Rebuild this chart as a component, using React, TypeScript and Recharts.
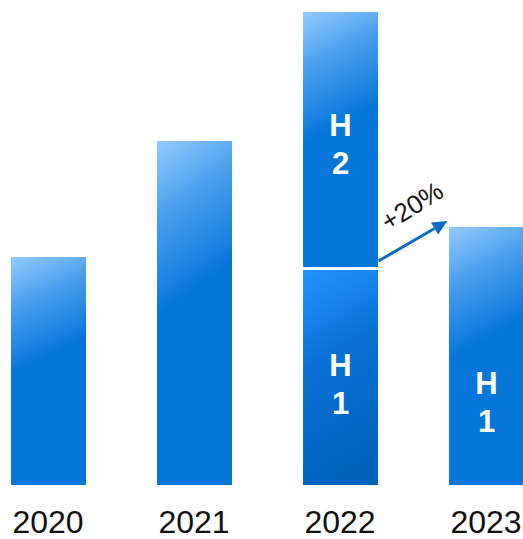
import React from "react";
import { BarChart, Bar, XAxis, YAxis, Cell, LabelList, ReferenceLine } from "recharts";

// ── Data ──────────────────────────────────────────────────────────────────────
const YEARS = ["2020", "2021", "2022", "2023"];
const FULL_YEAR = [106, 160, null, null];   // whole-year bars
const H1 = [null, null, 100, 120];           // first half
const H2 = [null, null, 120, null];          // second half
const H1_LABEL = ["", "", "1", "1"];
const H2_LABEL = ["", "", "2", ""];
const GROWTH = "+20%";

const data = YEARS.map((year, i) => ({
  year,
  full: FULL_YEAR[i],
  h1: H1[i],
  h2: H2[i],
}));

// ── Style ─────────────────────────────────────────────────────────────────────
const FONT = "'Liberation Sans', Arial, sans-serif";
const BAR_SIZE = 75;
const ARROW = "#0b6cc2";
const CHART_W = 584;
const CHART_H = 539;

// label vertical position inside each segment (fraction of its height)
const LABEL_POS = {
  h1: [0, 0, 0.53, 0.68],
  h2: [0, 0, 0.51, 0],
};
const LABELS = { h1: H1_LABEL, h2: H2_LABEL };

// LabelList index only counts non-null bars, so look the year up instead
function segLabel(key: "h1" | "h2") {
  return (props: any) => {
    const i = YEARS.indexOf(String(props.value));
    const digit = LABELS[key][i];
    if (!digit) return null;
    const top = Math.min(props.y, props.y + props.height);
    const h = Math.abs(props.height);
    const cx = props.x + props.width / 2;
    const cy = top + h * LABEL_POS[key][i];
    return (
      <g key={`${key}-${i}`} fontFamily={FONT} fontWeight="bold" fontSize={31} fill="#fff" textAnchor="middle">
        <text x={cx} y={cy - 19 + 11}>H</text>
        <text x={cx} y={cy + 19 + 11}>{digit}</text>
      </g>
    );
  };
}

// H2 segment with the white divider at its base
function H2Shape(props: any) {
  const { x, y, width, height, fill } = props;
  if (!height) return <g />;
  return (
    <g>
      <rect x={x} y={y} width={width} height={height} fill={fill} />
      <line x1={x} x2={x + width} y1={y + height - 1.5} y2={y + height - 1.5} stroke="#fff" strokeWidth={3} />
    </g>
  );
}

function GrowthArrow(props: any) {
  const { x1, y1, x2, y2 } = props;
  const sx = x1 + BAR_SIZE / 2 + 1;
  const sy = y1 - 9;
  const ex = x2 - BAR_SIZE / 2 - 1;
  const ey = y2 - 6;
  const ang = Math.atan2(ey - sy, ex - sx);
  const headL = 15;
  const headW = 7;
  const bx = ex - headL * Math.cos(ang);
  const by = ey - headL * Math.sin(ang);
  const px = -Math.sin(ang) * headW;
  const py = Math.cos(ang) * headW;
  const mx = (sx + ex) / 2;
  const my = (sy + ey) / 2;
  return (
    <g>
      <line x1={sx} y1={sy} x2={bx} y2={by} stroke={ARROW} strokeWidth={3} />
      <polygon points={`${ex},${ey} ${bx + px},${by + py} ${bx - px},${by - py}`} fill={ARROW} />
      <text
        x={0}
        y={0}
        transform={`translate(${mx - 1},${my - 35}) rotate(-32)`}
        textAnchor="middle"
        dominantBaseline="central"
        fontFamily={FONT}
        fontSize={26}
        fill="#111"
      >
        {GROWTH}
      </text>
    </g>
  );
}

function YearTick(props: any) {
  const { x, y, payload } = props;
  return (
    <text x={x} y={y + 40} textAnchor="middle" fontFamily={FONT} fontSize={32} fill="#111">
      {payload.value}
    </text>
  );
}

export default function App() {
  return (
    <div style={{ position: "absolute", left: 0, top: 0, width: 523, height: 539, overflow: "hidden", background: "#fff" }}>
      <div style={{ marginLeft: -25.5 }}>
        <BarChart
          width={CHART_W}
          height={CHART_H}
          data={data}
          margin={{ top: 12, right: 0, bottom: 0, left: 0 }}
          barCategoryGap={0}
        >
          <defs>
            <linearGradient id="gLight" x1="0" y1="0" x2="0.08" y2="0.5">
              <stop offset="0" stopColor="#93cbfd" />
              <stop offset="0.45" stopColor="#4a9fee" />
              <stop offset="1" stopColor="#0676db" />
            </linearGradient>
            <linearGradient id="gDark" x1="0" y1="0" x2="0.2" y2="1">
              <stop offset="0" stopColor="#2392ff" />
              <stop offset="0.45" stopColor="#0a72d6" />
              <stop offset="1" stopColor="#0063bd" />
            </linearGradient>
          </defs>
          <XAxis
            dataKey="year"
            height={54}
            axisLine={false}
            tickLine={false}
            tick={<YearTick />}
            interval={0}
          />
          <YAxis hide domain={[0, 220]} />
          <Bar dataKey="full" stackId="a" barSize={BAR_SIZE} fill="url(#gLight)" isAnimationActive={false} />
          <Bar dataKey="h1" stackId="a" barSize={BAR_SIZE} isAnimationActive={false}>
            {data.map((d, i) => (
              <Cell key={d.year} fill={i === 2 ? "url(#gDark)" : "url(#gLight)"} />
            ))}
            <LabelList dataKey="year" content={segLabel("h1")} />
          </Bar>
          <Bar dataKey="h2" stackId="a" barSize={BAR_SIZE} fill="url(#gLight)" shape={<H2Shape />} isAnimationActive={false}>
            <LabelList dataKey="year" content={segLabel("h2")} />
          </Bar>
          <ReferenceLine
            segment={[
              { x: YEARS[2], y: H1[2] as number },
              { x: YEARS[3], y: H1[3] as number },
            ]}
            ifOverflow="visible"
            shape={(p: any) => <GrowthArrow {...p} />}
          />
        </BarChart>
      </div>
    </div>
  );
}
